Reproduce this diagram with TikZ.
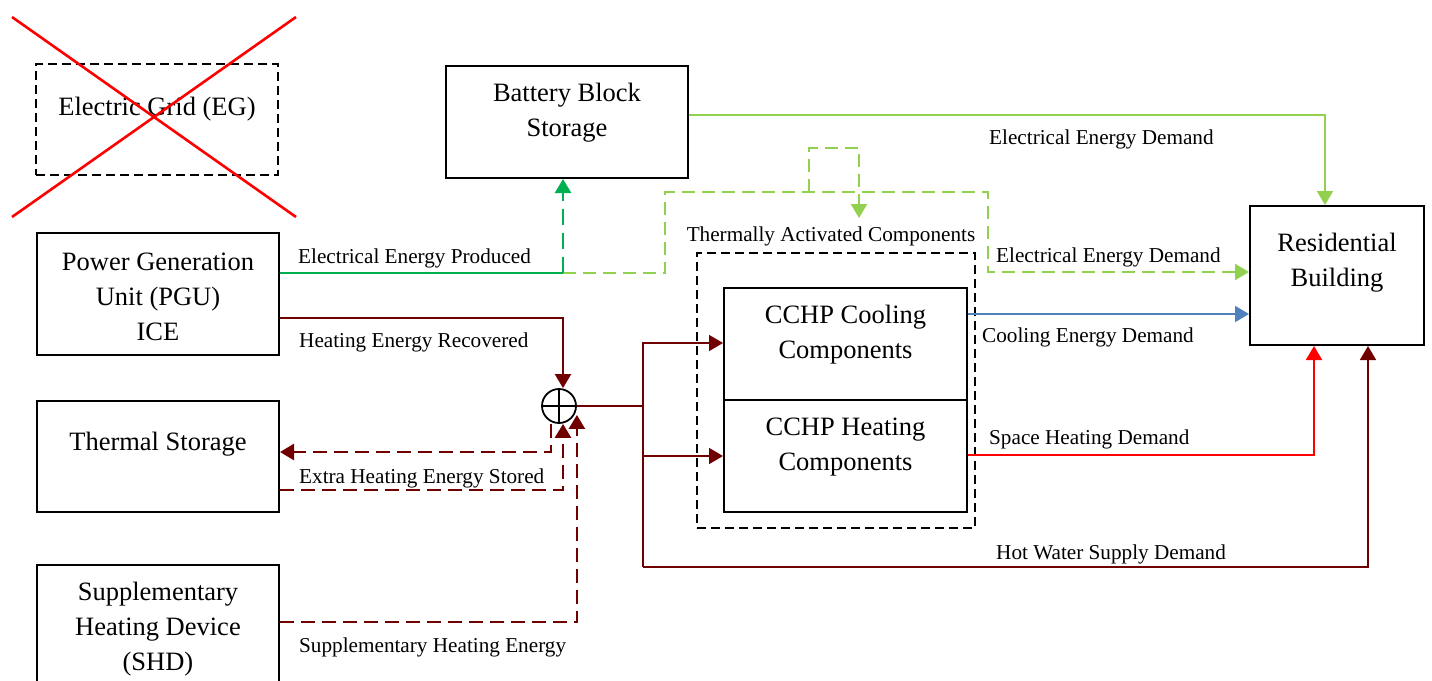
\documentclass[tikz,border=0pt]{standalone}
\usepackage{fontspec}
\setmainfont{Liberation Serif}
\usetikzlibrary{arrows.meta}
\definecolor{dgreen}{HTML}{00B050}
\definecolor{lgreen}{HTML}{92D050}
\definecolor{cblue}{HTML}{4F81BD}
\definecolor{cred}{HTML}{FF0000}
\definecolor{mroon}{HTML}{700000}
\begin{document}
\begin{tikzpicture}[x=1pt,y=-1pt,
  >={Triangle[length=14pt,width=16pt]},
  box/.style={draw, line width=2pt, rectangle, inner sep=0pt, minimum width=242pt},
  dbox/.style={box, dash pattern=on 9pt off 5pt},
  bigtxt/.style={font=\fontsize{26.5}{35}\selectfont, align=center, inner sep=0pt},
  lbl/.style={font=\fontsize{21.2}{25}\selectfont, inner sep=0pt, anchor=base west},
  conn/.style={line width=2pt},
  thin2/.style={line width=1.7pt},
  mdash/.style={line width=2.6pt, dash pattern=on 14pt off 7pt},
  gdash/.style={line width=2.4pt, dash pattern=on 13pt off 7pt},
  crossline/.style={draw=cred, line width=2.6pt}
]
\useasboundingbox (0,0) rectangle (1432,680);

% boxes
\node[dbox, minimum height=111pt] (eg) at (157,119.5) {};
\node[bigtxt] (egT) at (157,109) {Electric Grid (EG)};
\draw[crossline] (12,17) -- (296,217);
\draw[crossline] (12,217) -- (296,17);

\node[box, minimum height=112pt] (bat) at (567,122) {};
\node[bigtxt] (batT) at (567,113) {Battery Block\\Storage};

\node[box, minimum height=122pt] (pgu) at (158,294) {};
\node[bigtxt] (pguT) at (158,297) {Power Generation\\Unit (PGU)\\ICE};

\node[box, minimum height=111pt] (ts) at (158,456.5) {};
\node[bigtxt] (tsT) at (158,444) {Thermal Storage};

\node[box, minimum height=125pt] (shd) at (158,627.5) {};
\node[bigtxt] (shdT) at (158,629) {Supplementary\\Heating Device\\(SHD)};

\node[box, minimum width=174pt, minimum height=139pt] (res) at (1337,275.5) {};
\node[bigtxt] (resT) at (1337,263) {Residential\\Building};

\node[dbox, line width=1.8pt, minimum width=278pt, minimum height=275pt] (tac) at (836,390.5) {};
\node[lbl, anchor=base] (tacT) at (831,241) {Thermally Activated Components};

\node[box, minimum width=243pt, minimum height=112pt] (cool) at (845.5,344) {};
\node[bigtxt] (coolT) at (845.5,335) {CCHP Cooling\\Components};
\node[box, minimum width=243pt, minimum height=112pt] (heat) at (845.5,456) {};
\node[bigtxt] (heatT) at (845.5,447) {CCHP Heating\\Components};

\node[draw, circle, line width=1.8pt, minimum size=34pt, inner sep=0pt] (sum) at (559,406) {};
\draw[line width=1.8pt] (sum.north) -- (sum.south) (sum.west) -- (sum.east);

% labels
\node[lbl] (l1) at (298,263) {Electrical Energy Produced};
\node[lbl] (l2) at (989,144) {Electrical Energy Demand};
\node[lbl] (l3) at (996,262) {Electrical Energy Demand};
\node[lbl] (l4) at (299,347) {Heating Energy Recovered};
\node[lbl] (l5) at (982,342) {Cooling Energy Demand};
\node[lbl] (l6) at (989,444) {Space Heating Demand};
\node[lbl] (l7) at (996,559) {Hot Water Supply Demand};
\node[lbl] (l8) at (299,483) {Extra Heating Energy Stored};
\node[lbl] (l9) at (299,652) {Supplementary Heating Energy};

% electrical connectors
\coordinate (pg1) at (563,273);
\coordinate (g1) at (665,192);
\coordinate (g2) at (809,192);
\coordinate (g3) at (988,192);
\coordinate (g4) at (809,148);
\coordinate (g5) at (859,148);
\coordinate (tacin) at (859,218);
\draw[lgreen, gdash, ->] (pg1) -- (g1|-pg1) -- (g1) -- (g3) -- (g3|-0,272) -- (res.west|-0,272);
\draw[lgreen, gdash, ->] (g2) -- (g4) -- (g5) -- (tacin);
\draw[dgreen, conn] (pgu.east|-pg1) -- (pg1);
\draw[dgreen, line width=2.5pt, dash pattern=on 16pt off 8pt, ->] (pg1) -- (pg1|-bat.south);
\draw[lgreen, conn, ->] (bat.east|-0,115) -- (1325,115) -- (res.north-|1325,0);

% thermal connectors
\coordinate (jt) at (643,343);
\coordinate (jb) at (643,567);
\draw[mroon, conn, ->] (pgu.east|-0,318) -- (563,318) -- ([xshift=4pt]sum.north);
\draw[mroon, thin2] (sum.east) -- (sum.east-|jt);
\draw[mroon, thin2, ->] (jb) -- (jt) -- (cool.west|-jt);
\draw[mroon, thin2, ->] (jt|-0,456) -- (heat.west|-0,456);
\draw[mroon, thin2, ->] (jb) -- (jb-|1368,0) -- (res.south-|1368,0);
\draw[mroon, mdash, ->] ([xshift=-8pt]sum.south) |- (ts.east|-0,452);
\draw[mroon, mdash, ->] (ts.east|-0,490) -| ([xshift=4pt]sum.south);
\draw[mroon, mdash, ->] (shd.east|-0,622) -| (sum.east|-sum.-30);

\draw[cblue, conn, ->] (cool.east|-0,314) -- (res.west|-0,314);
\draw[cred, conn, ->] (heat.east|-0,455) -| (res.south-|1314,0);
\end{tikzpicture}
\end{document}
